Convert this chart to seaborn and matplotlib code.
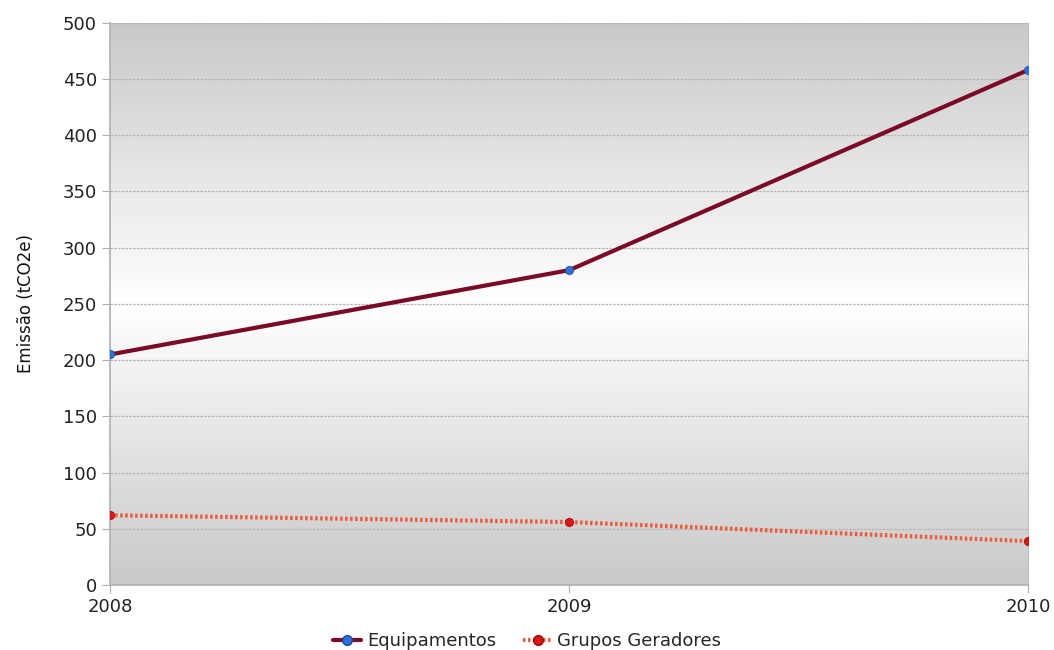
import numpy as np
import pandas as pd
import matplotlib
matplotlib.use("Agg")
import matplotlib.pyplot as plt
from matplotlib.colors import LinearSegmentedColormap
from matplotlib.lines import Line2D
import seaborn as sns

anos = [2008, 2009, 2010]
equipamentos = [205, 280, 458]
grupos_geradores = [62, 56, 39]
yticks = list(range(0, 501, 50))

df = pd.DataFrame({
    "Ano": anos * 2,
    "Emissão": equipamentos + grupos_geradores,
    "Série": ["Equipamentos"] * 3 + ["Grupos Geradores"] * 3,
})

sns.set_style("white")
plt.rcParams["font.family"] = ["DejaVu Sans"]

fig = plt.figure(figsize=(10.54, 6.5), dpi=100)
ax = fig.add_axes([0.1045, 0.1, 0.871, 0.865])

# vertical gray-white-gray gradient behind the plot
grad = np.concatenate([np.linspace(0, 1, 128), np.linspace(1, 0, 128)])[:, None]
cmap = LinearSegmentedColormap.from_list("bg", ["#c9c9c9", "#ffffff"])
ax.imshow(grad, aspect="auto", cmap=cmap, extent=[0, 1, 0, 1],
          transform=ax.transAxes, zorder=0, interpolation="bicubic")

palette = {"Equipamentos": "#7a0a28", "Grupos Geradores": "#f05a3a"}
sns.lineplot(data=df[df["Série"] == "Equipamentos"], x="Ano", y="Emissão",
             color=palette["Equipamentos"], linewidth=3, ax=ax, zorder=3,
             legend=False)
sns.lineplot(data=df[df["Série"] == "Grupos Geradores"], x="Ano", y="Emissão",
             color=palette["Grupos Geradores"], linewidth=3, linestyle=(0, (0.6, 0.6)),
             ax=ax, zorder=3, legend=False)
ax.scatter(anos, equipamentos, s=40, marker=(8, 0, 0), color="#2f6fd8",
           edgecolor="#1a4aa0", linewidth=0.5, zorder=4)
ax.scatter(anos, grupos_geradores, s=40, marker=(8, 0, 0), color="#d81818",
           edgecolor="#a00000", linewidth=0.5, zorder=4)

ax.set_xlim(2008, 2010)
ax.set_ylim(0, 500)
ax.set_xticks(anos)
ax.set_xticklabels([str(a) for a in anos])
ax.set_yticks(yticks)
ax.yaxis.grid(True, color="#b4b4b4", linestyle=(0, (2, 1)), linewidth=0.9)
ax.set_axisbelow(False)
for line in ax.get_ygridlines():
    line.set_zorder(1)

for side in ["top", "right"]:
    ax.spines[side].set_color("#c0c0c0")
for side in ["left", "bottom"]:
    ax.spines[side].set_color("#b0b0b0")
    ax.spines[side].set_linewidth(1.2)

ax.tick_params(axis="both", direction="out", length=6, color="#b0b0b0",
               labelsize=13, labelcolor="#222222", left=True, bottom=True)
ax.set_xlabel("")
ax.set_ylabel("Emissão (tCO2e)", fontsize=12, color="#111111", labelpad=20)

handles = [
    Line2D([0], [0], color=palette["Equipamentos"], linewidth=3,
           marker="o", markersize=7, markerfacecolor="#2f6fd8",
           markeredgecolor="#1a4aa0"),
    Line2D([0], [0], color=palette["Grupos Geradores"], linewidth=3,
           linestyle=(0, (0.6, 0.6)), marker="o", markersize=7,
           markerfacecolor="#d81818", markeredgecolor="#a00000"),
]
fig.legend(handles, ["Equipamentos", "Grupos Geradores"], loc="lower center",
           bbox_to_anchor=(0.5, -0.025), ncol=2, frameon=False, fontsize=13,
           handlelength=1.6, handletextpad=0.3, columnspacing=1.5)

fig.savefig("out.png", dpi=100)
